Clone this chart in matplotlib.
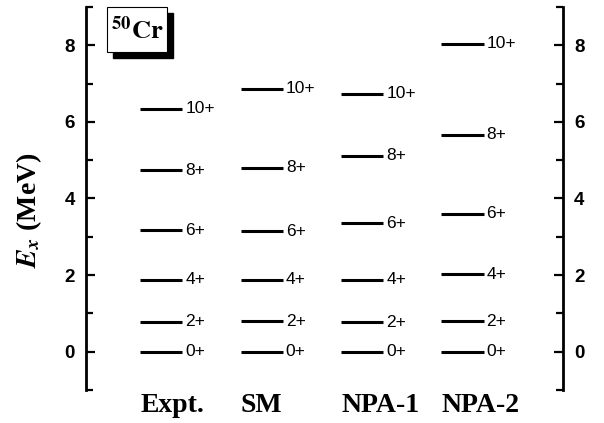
"""Level scheme of 50Cr: experiment vs. SM and NPA calculations."""

import matplotlib

matplotlib.use("Agg")
import matplotlib.pyplot as plt
from matplotlib.patches import Rectangle

# --- data -----------------------------------------------------------------
MODELS = ["Expt.", "SM", "NPA-1", "NPA-2"]
SPINS = ["0+", "2+", "4+", "6+", "8+", "10+"]
EXPT = [0.0, 0.78, 1.88, 3.17, 4.74, 6.34]
SM = [0.0, 0.80, 1.88, 3.14, 4.80, 6.87]
NPA1 = [0.0, 0.77, 1.88, 3.36, 5.12, 6.74]
NPA2 = [0.0, 0.80, 2.02, 3.60, 5.66, 8.04]
LEVELS = [EXPT, SM, NPA1, NPA2]
POSITIONS = [1, 2, 3, 4]

HALF = 0.21

plt.rcParams["mathtext.fontset"] = "stix"
plt.rcParams["font.family"] = "Liberation Sans"

fig = plt.figure(figsize=(6.04, 4.23), dpi=100)
ax = fig.add_axes([0.1424, 0.078, 0.7896, 0.9055])

for pos, energies in zip(POSITIONS, LEVELS):
    ax.hlines(energies, pos - HALF, pos + HALF, color="black", linewidth=2.2)
    for e, spin in zip(energies, SPINS):
        ax.text(pos + HALF + 0.03, e, spin, ha="left", va="center",
                fontsize=12.5, family="Liberation Sans")

ax.set_xlim(0.25, 5.0)
ax.set_ylim(-1, 9)

for side in ("top", "bottom"):
    ax.spines[side].set_visible(False)
for side in ("left", "right"):
    ax.spines[side].set_linewidth(2.0)

ax.set_yticks([0, 2, 4, 6, 8])
ax.set_yticks([-1, 1, 3, 5, 7, 9], minor=True)
ax.tick_params(axis="y", which="both", direction="in", left=True, right=True,
               labelleft=True, labelright=True, width=1.6)
ax.tick_params(axis="y", which="major", length=6.5, pad=8)
ax.tick_params(axis="y", which="minor", length=5)
for lab in ax.get_yticklabels():
    lab.set_fontweight("bold")
    lab.set_fontsize(13.5)

ax.set_xticks([p - HALF for p in POSITIONS])
ax.set_xticklabels(MODELS, ha="left", fontsize=20, fontweight="bold",
                   family="Liberation Serif")
ax.tick_params(axis="x", length=0, pad=2)

ax.set_ylabel(r"$\mathbfit{E_x}$ (MeV)", fontsize=20, fontweight="bold",
              family="Liberation Serif")
ax.yaxis.set_label_coords(-0.088, 0.47)

# nucleus label with drop shadow
ax.add_patch(Rectangle((0.056, 0.868), 0.126, 0.117, transform=ax.transAxes,
                       facecolor="black", edgecolor="black", clip_on=False,
                       zorder=3))
ax.add_patch(Rectangle((0.044, 0.883), 0.126, 0.117, transform=ax.transAxes,
                       facecolor="white", edgecolor="black", linewidth=0.8,
                       clip_on=False, zorder=4))
ax.text(0.107, 0.94, r"$\mathbf{^{50}Cr}$", transform=ax.transAxes,
        ha="center", va="center", fontsize=19, zorder=5)

fig.savefig("out.png", dpi=100)
